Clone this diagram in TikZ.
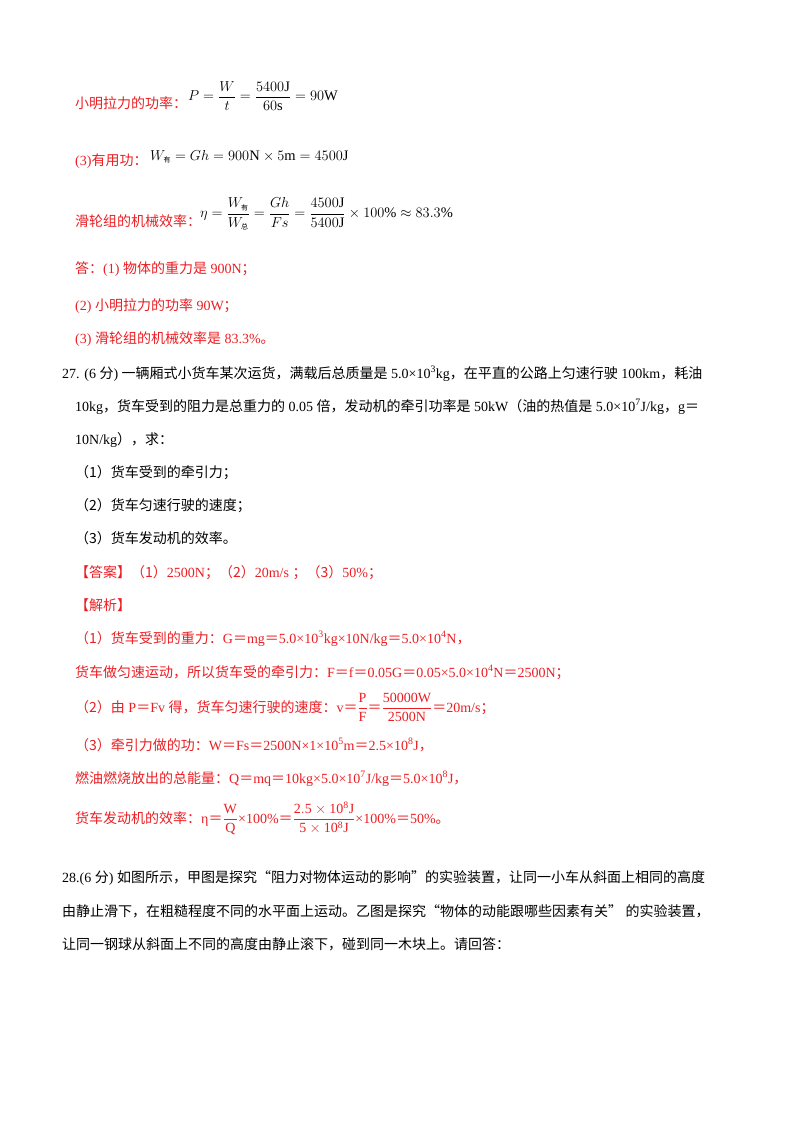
\documentclass[tikz,border=0pt]{standalone}
\usepackage{fontspec}
\setmainfont{Liberation Serif}
\newfontfamily\cjk{Noto Sans CJK SC}
\newcommand{\z}[1]{{\cjk #1}}
\newcommand{\sbz}[1]{\mbox{\fontsize{7}{8}\selectfont\cjk #1}}
\definecolor{ans}{RGB}{235,30,35}
\begin{document}
\begin{tikzpicture}[x=1pt,y=-1pt,
  t/.style={anchor=base west,inner sep=0pt,font=\fontsize{14}{16}\selectfont},
  r/.style={t,text=ans},
  m/.style={anchor=west,inner sep=0pt,font=\fontsize{14.5}{17}\selectfont}]
\useasboundingbox (0,0) rectangle (800,1132);
\node[r] (a1) at (75,108) {\z{小明拉力的功率：}};
\node[m] (f1) at (188,96) {$\displaystyle P=\frac{W}{t}=\frac{5400\mathrm{J}}{60\mathrm{s}}=90\mathrm{W}$};
\node[r] (a2) at (75,165) {(3)\z{有用功：}};
\node[m] (f2) at (150,157) {$W_{\sbz{有}}=Gh=900\mathrm{N}\times5\mathrm{m}=4500\mathrm{J}$};
\node[r] (a3) at (75,226) {\z{滑轮组的机械效率：}};
\node[m] (f3) at (200,214) {$\displaystyle \eta=\frac{W_{\sbz{有}}}{W_{\sbz{总}}}=\frac{Gh}{Fs}=\frac{4500\mathrm{J}}{5400\mathrm{J}}\times100\%\approx83.3\%$};
\node[r] (a4) at (75,273) {\z{答：}(1) \z{物体的重力是} 900N\z{；}};
\node[r] (a5) at (75,310) {(2) \z{小明拉力的功率} 90W\z{；}};
\node[r] (a6) at (75,343) {(3) \z{滑轮组的机械效率是} 83.3\%\z{。}};
\node[t] (q1) at (62,378) {27. (6 \z{分}) \z{一辆厢式小货车某次运货，满载后总质量是} 5.0×10\textsuperscript{3}kg\z{，在平直的公路上匀速行驶} 100km\z{，耗油}};
\node[t] (q2) at (75,411) {10kg\z{，货车受到的阻力是总重力的} 0.05 \z{倍，发动机的牵引功率是} 50kW\z{（油的热值是} 5.0×10\textsuperscript{7}J/kg\z{，}g\z{＝}};
\node[t] (q3) at (75,444) {10N/kg\z{），求：}};
\node[t] (q4) at (75,477) {\z{（1）货车受到的牵引力；}};
\node[t] (q5) at (75,510) {\z{（2）货车匀速行驶的速度；}};
\node[t] (q6) at (75,543) {\z{（3）货车发动机的效率。}};
\node[r] (b1) at (75,577) {\z{【答案】（1）}2500N\z{；（2）}20m/s \z{；（3）}50\%\z{；}};
\node[r] (b2) at (75,610) {\z{【解析】}};
\node[r] (b3) at (75,643) {\z{（1）货车受到的重力：}G\z{＝}mg\z{＝}5.0×10\textsuperscript{3}kg×10N/kg\z{＝}5.0×10\textsuperscript{4}N\z{，}};
\node[r] (b4) at (75,677) {\z{货车做匀速运动，所以货车受的牵引力：}F\z{＝}f\z{＝}0.05G\z{＝}0.05×5.0×10\textsuperscript{4}N\z{＝}2500N\z{；}};
\node[r] (b5) at (75,712) {\z{（2）由} P\z{＝}Fv \z{得，货车匀速行驶的速度：}v\z{＝}$\displaystyle\frac{\mathrm{P}}{\mathrm{F}}$\z{＝}$\displaystyle\frac{\mathrm{50000W}}{\mathrm{2500N}}$\z{＝}20m/s\z{；}};
\node[r] (b6) at (75,750) {\z{（3）牵引力做的功：}W\z{＝}Fs\z{＝}2500N×1×10\textsuperscript{5}m\z{＝}2.5×10\textsuperscript{8}J\z{，}};
\node[r] (b7) at (75,783) {\z{燃油燃烧放出的总能量：}Q\z{＝}mq\z{＝}10kg×5.0×10\textsuperscript{7}J/kg\z{＝}5.0×10\textsuperscript{8}J\z{，}};
\node[r] (b8) at (75,823) {\z{货车发动机的效率：}η\z{＝}$\displaystyle\frac{\mathrm{W}}{\mathrm{Q}}$×100\%\z{＝}$\displaystyle\frac{\mathrm{2.5\times10^{8}J}}{\mathrm{5\times10^{8}J}}$×100\%\z{＝}50\%\z{。}};
\node[t] (c1) at (62,882) {28.(6 \z{分}) \z{如图所示，甲图是探究“阻力对物体运动的影响”的实验装置，让同一小车从斜面上相同的高度}};
\node[t] (c2) at (62,916) {\z{由静止滑下，在粗糙程度不同的水平面上运动。乙图是探究“物体的动能跟哪些因素有关”}\ \z{的实验装置，}};
\node[t] (c3) at (62,949) {\z{让同一钢球从斜面上不同的高度由静止滚下，碰到同一木块上。请回答：}};
\end{tikzpicture}
\end{document}
